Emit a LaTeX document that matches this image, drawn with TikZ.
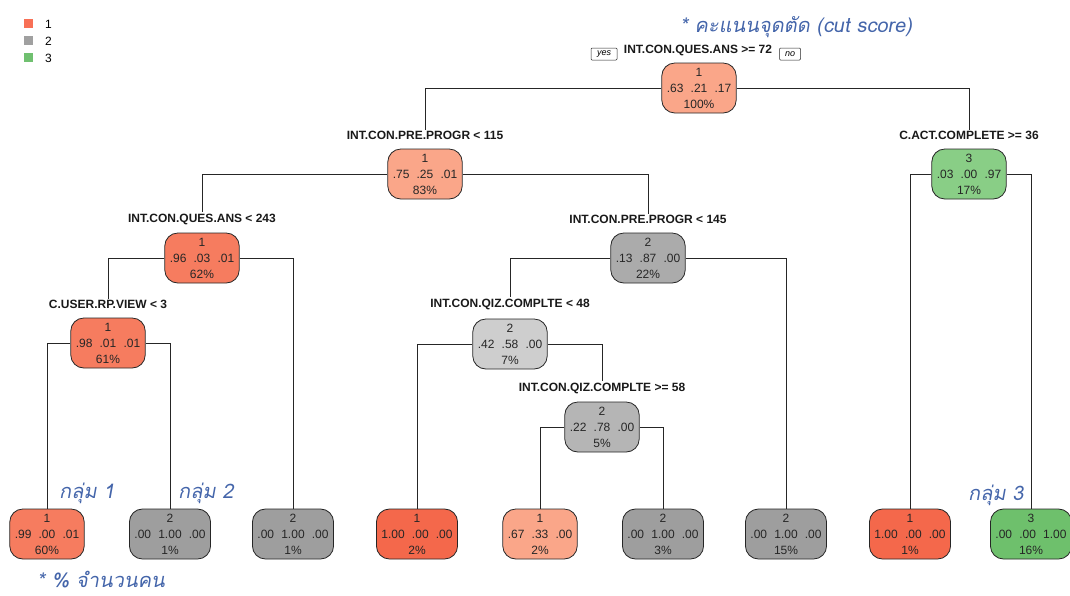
\documentclass[tikz,border=0pt]{standalone}
\usepackage{fontspec}
\setmainfont{Liberation Sans}
\newfontfamily\thaifont[Script=Thai,FakeSlant=0.18]{Loma}
\definecolor{rA}{RGB}{250,166,137}
\definecolor{rB}{RGB}{246,124,95}
\definecolor{rC}{RGB}{244,104,75}
\definecolor{gA}{RGB}{206,206,206}
\definecolor{gB}{RGB}{181,181,181}
\definecolor{gC}{RGB}{171,171,171}
\definecolor{gD}{RGB}{158,158,158}
\definecolor{eA}{RGB}{137,206,134}
\definecolor{eB}{RGB}{110,192,108}
\definecolor{notecol}{RGB}{68,101,170}
\definecolor{leg1}{RGB}{248,112,86}
\definecolor{leg2}{RGB}{160,160,160}
\definecolor{leg3}{RGB}{112,192,112}
\newcommand\pp[3]{#1\hspace{0.6em}#2\hspace{0.6em}#3}
\tikzset{
  tnode/.style={draw=black!85, line width=0.8pt, rounded corners=13pt,
    minimum height=50pt, inner xsep=5pt, inner ysep=0pt, align=center,
    font=\fontsize{12}{16}\selectfont, text=black!85},
  slab/.style={font=\fontsize{12}{14}\selectfont\bfseries, inner sep=1pt, text=black!90},
  conn/.style={draw=black!85, line width=0.8pt},
  note/.style={font=\thaifont\fontsize{20}{24}\selectfont, text=notecol, anchor=base west, inner sep=0pt},
  ynbox/.style={draw=black!85, line width=0.5pt, rounded corners=1pt,
    font=\fontsize{9}{10}\selectfont\itshape, inner sep=1pt, minimum height=12pt},
  legsq/.style={minimum size=9pt, inner sep=0pt},
  legtx/.style={font=\fontsize{12}{14}\selectfont, anchor=west, inner sep=0pt}
}
\begin{document}
\begin{tikzpicture}[x=1pt,y=-1pt]
\useasboundingbox (0,0) rectangle (1070,595);
% legend
\node[legsq, fill=leg1] (lg1) at (28,23) {};
\node[legsq, fill=leg2] (lg2) at (28,40) {};
\node[legsq, fill=leg3] (lg3) at (28,57) {};
\node[legtx] (lt1) at (45,24) {1};
\node[legtx] (lt2) at (45,41) {2};
\node[legtx] (lt3) at (45,58) {3};
% split labels
\node[slab] (s0) at (698,50) {INT.CON.QUES.ANS >= 72};
\node[ynbox, minimum width=26pt] (yes) at (604,54) {yes};
\node[ynbox, minimum width=21pt] (no) at (790,54) {no};
\node[slab] (s1) at (425,135) {INT.CON.PRE.PROGR < 115};
\node[slab] (s2) at (969,135) {C.ACT.COMPLETE >= 36};
\node[slab] (s3) at (202,219) {INT.CON.QUES.ANS < 243};
\node[slab] (s4) at (648,219) {INT.CON.PRE.PROGR < 145};
\node[slab] (s5) at (108,304) {C.USER.RP.VIEW < 3};
\node[slab] (s6) at (510,304) {INT.CON.QIZ.COMPLTE < 48};
\node[slab] (s7) at (602,388) {INT.CON.QIZ.COMPLTE >= 58};
% internal nodes
\node[tnode, fill=rA] (n0) at (699,88) {1\\\pp{.63}{.21}{.17}\\100\%};
\node[tnode, fill=rA] (n1) at (425,174) {1\\\pp{.75}{.25}{.01}\\83\%};
\node[tnode, fill=eA] (n2) at (969,174) {3\\\pp{.03}{.00}{.97}\\17\%};
\node[tnode, fill=rB] (n3) at (202,258) {1\\\pp{.96}{.03}{.01}\\62\%};
\node[tnode, fill=gC] (n4) at (648,258) {2\\\pp{.13}{.87}{.00}\\22\%};
\node[tnode, fill=rB] (n5) at (108,343) {1\\\pp{.98}{.01}{.01}\\61\%};
\node[tnode, fill=gA] (n6) at (510,344) {2\\\pp{.42}{.58}{.00}\\7\%};
\node[tnode, fill=gB] (n7) at (602,427) {2\\\pp{.22}{.78}{.00}\\5\%};
% leaves
\node[tnode, fill=rB] (l1) at (47,534) {1\\\pp{.99}{.00}{.01}\\60\%};
\node[tnode, fill=gD] (l2) at (170,534) {2\\\pp{.00}{1.00}{.00}\\1\%};
\node[tnode, fill=gD] (l3) at (293,534) {2\\\pp{.00}{1.00}{.00}\\1\%};
\node[tnode, fill=rC] (l4) at (417,534) {1\\\pp{1.00}{.00}{.00}\\2\%};
\node[tnode, fill=rA] (l5) at (540,534) {1\\\pp{.67}{.33}{.00}\\2\%};
\node[tnode, fill=gD] (l6) at (663,534) {2\\\pp{.00}{1.00}{.00}\\3\%};
\node[tnode, fill=gD] (l7) at (786,534) {2\\\pp{.00}{1.00}{.00}\\15\%};
\node[tnode, fill=rC] (l8) at (910,534) {1\\\pp{1.00}{.00}{.00}\\1\%};
\node[tnode, fill=eB] (l9) at (1031,534) {3\\\pp{.00}{.00}{1.00}\\16\%};
% connectors
\draw[conn] (n0.west) -| (s1.north);
\draw[conn] (n0.east) -| (s2.north);
\draw[conn] (n1.west) -| (s3.north);
\draw[conn] (n1.east) -| (s4.north);
\draw[conn] (n2.west) -| (l8.north);
\draw[conn] (n2.east) -| (l9.north);
\draw[conn] (n3.west) -| (s5.north);
\draw[conn] (n3.east) -| (l3.north);
\draw[conn] (n4.west) -| (s6.north);
\draw[conn] (n4.east) -| (l7.north);
\draw[conn] (n5.west) -| (l1.north);
\draw[conn] (n5.east) -| (l2.north);
\draw[conn] (n6.west) -| (l4.north);
\draw[conn] (n6.east) -| (s7.north);
\draw[conn] (n7.west) -| (l5.north);
\draw[conn] (n7.east) -| (l6.north);
% notes
\node[note] (c0) at (680,32) {* คะแนนจุดตัด (cut score)};
\node[note] (c1) at (59,498) {กลุ่ม 1};
\node[note] (c2) at (178,498) {กลุ่ม 2};
\node[note] (c3) at (968,500) {กลุ่ม 3};
\node[note] (c4) at (37,587) {* \% จำนวนคน};
\end{tikzpicture}
\end{document}
